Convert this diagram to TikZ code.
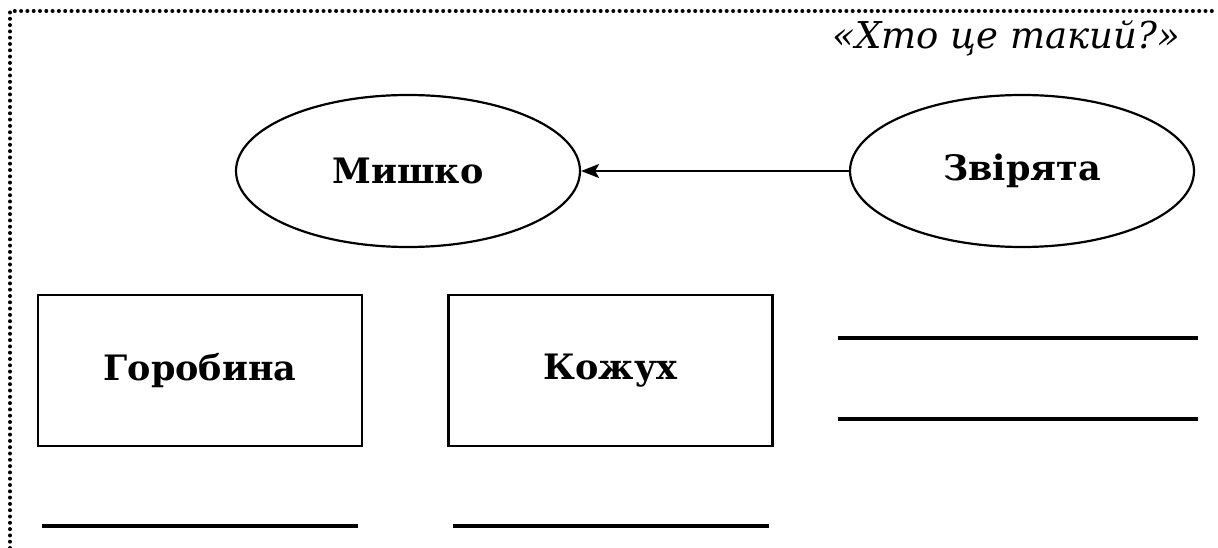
\documentclass[tikz,border=0pt]{standalone}
\usepackage{fontspec}
\setmainfont{DejaVu Serif}
\usetikzlibrary{shapes.geometric,arrows.meta}
\begin{document}
\begin{tikzpicture}[x=1pt,y=-1pt,
  oval/.style={draw,ellipse,line width=2.2pt,minimum width=344pt,minimum height=152pt,inner sep=0pt,font=\bfseries\fontsize{35}{40}\selectfont},
  card/.style={draw,rectangle,line width=2.4pt,minimum width=324pt,minimum height=151pt,inner sep=0pt,font=\bfseries\fontsize{35}{40}\selectfont},
  blank/.style={line width=3.2pt},
  frame/.style={line width=4pt,line cap=round,dash pattern=on 0pt off 6.3pt},
  link/.style={line width=2.2pt,-{Stealth[length=18pt,width=14pt,inset=4pt]}}]
\useasboundingbox (0,0) rectangle (1218,548);
\draw[frame] (10,548) -- (10,11) -- (1218,11);
\node[anchor=base east,inner sep=0pt,font=\itshape\fontsize{37}{44}\selectfont] (title) at (1180,49) {«Хто це такий?»};
\node[oval] (mishko) at (408,171) {Мишко};
\node[oval] (zvirjata) at (1022,171) {Звірята};
\draw[link] (zvirjata.west) -- (mishko.east);
\node[card] (horobyna) at (200,370.5) {Горобина};
\node[card] (kozhukh) at (610.5,370.5) {Кожух};
\coordinate (r1a) at (838,338); \coordinate (r1b) at (1198,338);
\coordinate (r2a) at (838,419); \coordinate (r2b) at (1198,419);
\coordinate (b1a) at (42,526); \coordinate (b1b) at (358,526);
\coordinate (b2a) at (453,526); \coordinate (b2b) at (769,526);
\draw[blank] (r1a) -- (r1b);
\draw[blank] (r2a) -- (r2b);
\draw[blank] (b1a) -- (b1b);
\draw[blank] (b2a) -- (b2b);
\end{tikzpicture}
\end{document}
